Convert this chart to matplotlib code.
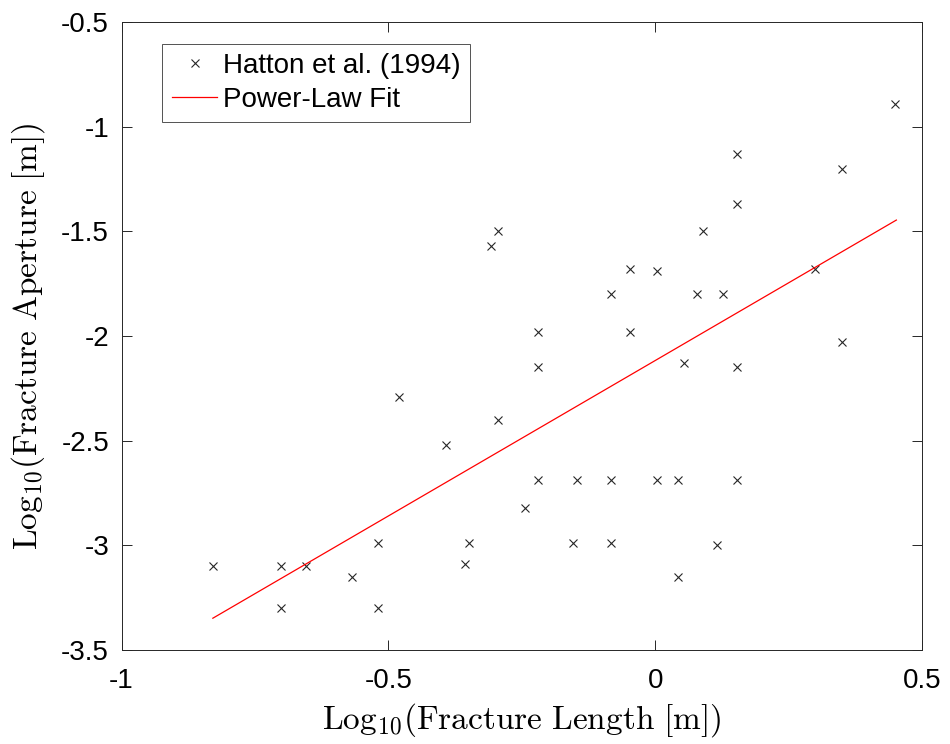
import numpy as np
import matplotlib.pyplot as plt

# ==============================
# DATA
# ==============================
log_length = [-0.829, -0.702, -0.702, -0.655, -0.568, -0.520, -0.520, -0.480,
              -0.392, -0.356, -0.349, -0.308, -0.295, -0.295, -0.244, -0.220,
              -0.220, -0.220, -0.154, -0.146, -0.083, -0.083, -0.083, -0.047,
              -0.047, 0.004, 0.004, 0.043, 0.043, 0.054, 0.090, 0.079,
              0.116, 0.128, 0.154, 0.154, 0.154, 0.154, 0.300, 0.351,
              0.351, 0.450]
log_aperture = [-3.10, -3.10, -3.30, -3.10, -3.15, -2.99, -3.30, -2.29,
                -2.52, -3.09, -2.99, -1.57, -1.50, -2.40, -2.82, -1.98,
                -2.15, -2.69, -2.99, -2.69, -1.80, -2.69, -2.99, -1.68,
                -1.98, -1.69, -2.69, -2.69, -3.15, -2.13, -1.50, -1.80,
                -3.00, -1.80, -1.13, -1.37, -2.15, -2.69, -1.68, -1.20,
                -2.03, -0.89]

fit_x = [-0.829, 0.452]
fit_y = [-3.348, -1.446]

x_ticks = [-1, -0.5, 0, 0.5]
y_ticks = [-3.5, -3, -2.5, -2, -1.5, -1, -0.5]

# ==============================
# PLOT
# ==============================
plt.rcParams['font.family'] = ['Liberation Sans', 'DejaVu Sans']
plt.rcParams['mathtext.fontset'] = 'cm'

fig = plt.figure(figsize=(9.5, 7.44), dpi=100)
ax = fig.add_axes([0.128, 0.1263, 0.8425, 0.8441])

ax.plot(log_length, log_aperture, 'x', color='#262626', markersize=6,
        markeredgewidth=0.8, label='Hatton et al. (1994)')
ax.plot(fit_x, fit_y, '-', color='#ff0000', linewidth=0.9,
        label='Power-Law Fit')

ax.set_xlim(-1, 0.5)
ax.set_ylim(-3.5, -0.5)
ax.set_xticks(x_ticks)
ax.set_yticks(y_ticks)
ax.set_xticklabels([f'{v:g}' for v in x_ticks])
ax.set_yticklabels([f'{v:g}' for v in y_ticks])

ax.tick_params(direction='in', top=True, right=True, length=7,
               width=0.7, color='#262626', labelsize=20, pad=9)
ax.tick_params(axis='x', pad=13)
for s in ax.spines.values():
    s.set_color('#262626')
    s.set_linewidth(0.7)

ax.set_xlabel(r'$\mathrm{Log}_{10}(\mathrm{Fracture\ Length\ [m]})$',
              fontsize=24, labelpad=5)
ax.set_ylabel(r'$\mathrm{Log}_{10}(\mathrm{Fracture\ Aperture\ [m]})$',
              fontsize=24, labelpad=10)

leg = ax.legend(loc='upper left', bbox_to_anchor=(0.051, 0.965), fontsize=20,
                frameon=True, fancybox=False, edgecolor='#262626',
                borderpad=0.33, handlelength=1.65, handletextpad=0.2,
                labelspacing=0.27, borderaxespad=0)
leg.get_frame().set_linewidth(0.7)

fig.savefig('out.png', dpi=100)
